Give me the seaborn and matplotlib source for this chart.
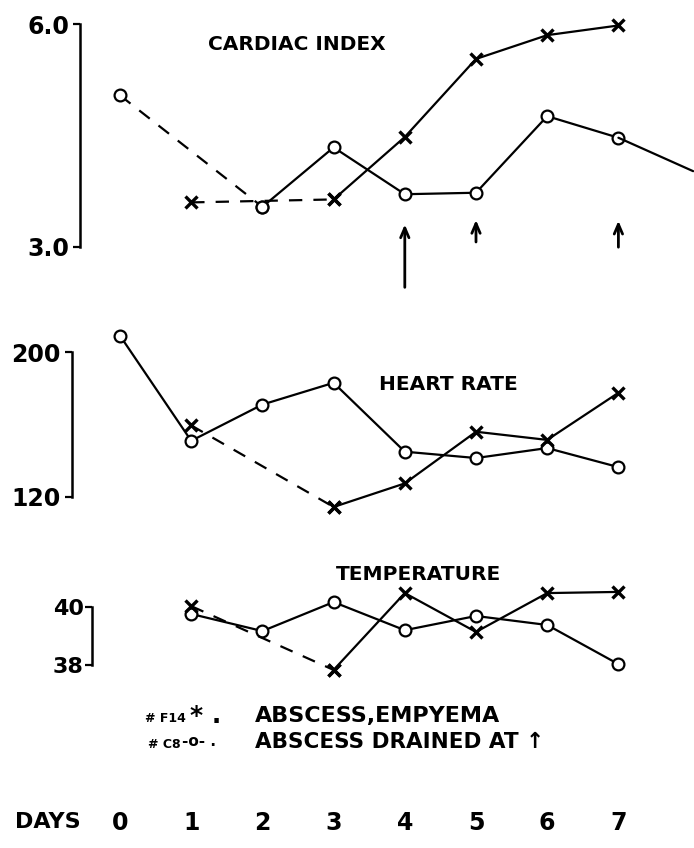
import numpy as np
import pandas as pd
import matplotlib
matplotlib.use("Agg")
import matplotlib.pyplot as plt
import seaborn as sns

# --------------------------------------------------
# Data
# --------------------------------------------------
days_axis = [0, 1, 2, 3, 4, 5, 6, 7]

# cardiac index
ci_c8_days = [0, 2, 3, 4, 5, 6, 7]
ci_c8_vals = [5.04, 3.54, 4.34, 3.71, 3.73, 4.76, 4.47]
ci_c8_tail = [8.05, 4.02]          # line runs off the right edge
ci_f14_days = [1, 3, 4, 5, 6, 7]
ci_f14_vals = [3.60, 3.64, 4.48, 5.53, 5.85, 5.98]
drain_days = [4, 5, 7]
drain_from = [2.42, 3.03, 2.96]
drain_to = [3.34, 3.40, 3.39]

# heart rate
hr_c8_days = [0, 1, 2, 3, 4, 5, 6, 7]
hr_c8_vals = [209, 151, 171, 183, 145, 141.5, 147, 136.5]
hr_f14_days = [1, 3, 4, 5, 6, 7]
hr_f14_vals = [159.5, 114.5, 127.5, 156, 151.5, 177.5]

# temperature
tp_c8_days = [1, 2, 3, 4, 5, 6, 7]
tp_c8_vals = [39.76, 39.17, 40.17, 39.20, 39.69, 39.38, 38.03]
tp_f14_days = [1, 3, 4, 5, 6, 7]
tp_f14_vals = [40.03, 37.83, 40.48, 39.14, 40.48, 40.52]

# --------------------------------------------------
# Style
# --------------------------------------------------
sns.set_style("white")
plt.rcParams["font.family"] = ["DejaVu Sans"]
plt.rcParams["font.weight"] = "bold"
plt.rcParams["text.color"] = "black"
plt.rcParams["xtick.color"] = "black"
plt.rcParams["ytick.color"] = "black"

W, H = 694, 848
fig = plt.figure(figsize=(W / 100, H / 100), dpi=100)

X0, DX = 120, 71.2          # pixel of day 0, pixels per day
XLIM = (-X0 / DX, (W - X0) / DX)

LW = 1.6
DASH = (0, (6, 5))
C8_KW = dict(marker="o", markersize=8.5, markerfacecolor="white",
             markeredgecolor="black", markeredgewidth=1.6)
F14_KW = dict(marker="x", markersize=8, markeredgewidth=2.4,
              markeredgecolor="black", markerfacecolor="black")


def px(x, y):
    return x / W, 1 - y / H


def panel(top, bottom, v_top, p_top, v_bot, p_bot):
    ax = fig.add_axes([0, 1 - bottom / H, 1, (bottom - top) / H])
    ax.patch.set_alpha(0)
    scale = (p_bot - p_top) / (v_top - v_bot)
    ax.set_ylim(v_bot - (bottom - p_bot) / scale, v_top + (p_top - top) / scale)
    ax.set_xlim(*XLIM)
    for s in ["top", "right", "bottom"]:
        ax.spines[s].set_visible(False)
    return ax


def draw_series(ax, days, vals, kw, dashed_first=False):
    df = pd.DataFrame({"day": days, "val": vals})
    if dashed_first:
        sns.lineplot(data=df.iloc[:2], x="day", y="val", ax=ax, color="black",
                     lw=LW, linestyle=DASH, **kw)
        df = df.iloc[1:]
    sns.lineplot(data=df, x="day", y="val", ax=ax, color="black", lw=LW, **kw)


def yaxis(ax, xpix, lo, hi, labels, size, pad=3):
    ax.spines["left"].set_position(("data", (xpix - X0) / DX))
    ax.spines["left"].set_bounds(lo, hi)
    ax.spines["left"].set_linewidth(1.8)
    ax.spines["left"].set_color("black")
    ax.set_yticks([lo, hi])
    ax.set_yticklabels(labels, fontsize=size, fontweight="bold")
    ax.tick_params(axis="y", which="both", left=True, direction="out",
                   length=5, width=1.6, pad=pad)
    ax.set_xticks([])
    ax.set_xlabel("")
    ax.set_ylabel("")


# --------------------------------------------------
# Cardiac index
# --------------------------------------------------
ax1 = panel(0, 300, 6.0, 24, 3.0, 247)
draw_series(ax1, ci_c8_days, ci_c8_vals, C8_KW, dashed_first=True)
sns.lineplot(x=[ci_c8_days[-1], ci_c8_tail[0]], y=[ci_c8_vals[-1], ci_c8_tail[1]],
             ax=ax1, color="black", lw=LW)
draw_series(ax1, ci_f14_days, ci_f14_vals, F14_KW, dashed_first=True)
for d, y0, y1 in zip(drain_days, drain_from, drain_to):
    ax1.annotate("", xy=(d, y1), xytext=(d, y0),
                 arrowprops=dict(arrowstyle="->,head_length=0.7,head_width=0.3",
                                 color="black", lw=2.0))
ax1.text(*px(297, 45), "CARDIAC INDEX", transform=fig.transFigure,
         ha="center", va="center", fontsize=14.5, fontweight="bold")
yaxis(ax1, 80, 3.0, 6.0, ["3.0", "6.0"], 17)

# --------------------------------------------------
# Heart rate
# --------------------------------------------------
ax2 = panel(300, 530, 200, 352, 120, 497)
draw_series(ax2, hr_c8_days, hr_c8_vals, C8_KW)
draw_series(ax2, hr_f14_days, hr_f14_vals, F14_KW, dashed_first=True)
ax2.text(*px(448, 384), "HEART RATE", transform=fig.transFigure,
         ha="center", va="center", fontsize=14.5, fontweight="bold")
yaxis(ax2, 72, 120, 200, ["120", "200"], 17)

# --------------------------------------------------
# Temperature
# --------------------------------------------------
ax3 = panel(530, 700, 40, 607, 38, 665)
draw_series(ax3, tp_c8_days, tp_c8_vals, C8_KW)
draw_series(ax3, tp_f14_days, tp_f14_vals, F14_KW, dashed_first=True)
ax3.text(*px(418, 574), "TEMPERATURE", transform=fig.transFigure,
         ha="center", va="center", fontsize=14.5, fontweight="bold")
yaxis(ax3, 92, 38, 40, ["38", "40"], 16, pad=1)

# --------------------------------------------------
# Legend text
# --------------------------------------------------
fig.text(*px(145, 718), "# F14", fontsize=9, va="center", ha="left")
fig.text(*px(190, 716), "* .", fontsize=18, va="center", ha="left")
fig.text(*px(255, 716), "ABSCESS,EMPYEMA", fontsize=16, va="center", ha="left")
fig.text(*px(148, 744), "# C8", fontsize=9, va="center", ha="left")
fig.text(*px(182, 742), "-o- .", fontsize=11, va="center", ha="left")
fig.text(*px(255, 742), "ABSCESS DRAINED AT \u2191", fontsize=15.5, va="center", ha="left")

# --------------------------------------------------
# Days axis
# --------------------------------------------------
ax4 = fig.add_axes([0, 1 - 848 / H, 1, 70 / H])
ax4.patch.set_alpha(0)
ax4.set_xlim(*XLIM)
ax4.set_ylim(0, 1)
sns.despine(ax=ax4, left=True, bottom=True)
ax4.set_yticks([])
ax4.set_xticks(days_axis)
ax4.set_xticklabels([str(d) for d in days_axis], fontsize=17, fontweight="bold")
ax4.tick_params(axis="x", length=0, pad=-27)
ax4.text(*px(15, 822), "DAYS", transform=fig.transFigure, ha="left", va="center",
         fontsize=16, fontweight="bold")

fig.savefig("out.png", dpi=100)
